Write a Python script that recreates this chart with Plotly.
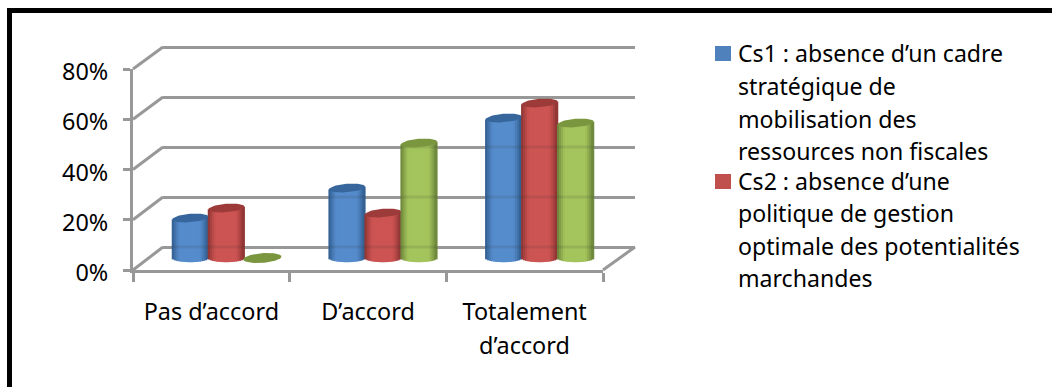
import numpy as np
import plotly.graph_objects as go

W, H = 1052, 387

categories = ["Pas d’accord", "D’accord", "Totalement"]
second_line = "d’accord"
cs1_values = [16, 28, 56]
cs2_values = [20, 18, 62]
cs3_values = [0, 46, 54]
tick_values = [0, 20, 40, 60, 80]
tick_labels = ["0%", "20%", "40%", "60%", "80%"]
legend_cs1 = ["Cs1 : absence d’un cadre", "stratégique de", "mobilisation des", "ressources non fiscales"]
legend_cs2 = ["Cs2 : absence d’une", "politique de gestion", "optimale des potentialités", "marchandes"]

FONT = "Noto Sans"
FONT_SIZE = 23.4
LEGEND_FONT_SIZE = 23.1
GREY = "#989898"
GRID_W = 3

series = [
    (cs1_values, (0x55, 0x8C, 0xCC), (0x2E, 0x58, 0x88), "#36669B"),
    (cs2_values, (0xCC, 0x54, 0x52), (0x84, 0x30, 0x2E), "#9C3B39"),
    (cs3_values, (0xA4, 0xC4, 0x5C), (0x64, 0x7C, 0x36), "#7A963E"),
]


def px_x(p):
    return p / W


def px_y(p):
    return 1 - p / H


# Bar geometry in plot units: one category is 156.7 px, one percent is 2.5 px
CAT_PX = 156.7
PCT_PX = 2.5
bar_w = 36 / CAT_PX
ell_h = 4.2 / PCT_PX
tilt = 1.4 / PCT_PX
n_strips = 18

fig = go.Figure()

# Back wall: gridlines only
fig.add_trace(go.Scatter(x=[0], y=[None], xaxis="x", yaxis="y", mode="none", showlegend=False, hoverinfo="skip"))

# Cylinders: a bar trace of narrow shaded strips per series
for s, (values, light, dark, cap) in enumerate(series):
    xs, ys, bases, cols = [], [], [], []
    for c, v in enumerate(values):
        if v == 0:
            continue
        left = c + (s - 1.5) * bar_w
        for k in range(n_strips):
            u = (k + 0.5) / n_strips * 2 - 1
            shade = min(1, (1 - abs(u)) / 0.42) ** 0.8
            rgb = [int(d + (l - d) * shade) for l, d in zip(light, dark)]
            cols.append("rgb(%d,%d,%d)" % tuple(rgb))
            xs.append(left + (k + 0.5) * bar_w / n_strips)
            sag = ell_h * np.sqrt(1 - u * u)
            bases.append(-sag)
            ys.append(v + tilt * u + sag)
    fig.add_trace(go.Bar(x=xs, y=ys, base=bases, width=1.6 * bar_w / n_strips, xaxis="x2", yaxis="y2",
                         marker=dict(color=cols, line=dict(width=0)), cliponaxis=False,
                         showlegend=False, hoverinfo="skip"))

# Back-wall gridlines showing faintly through the cylinders
wall_offset = 11 / PCT_PX
for s, (values, light, dark, cap) in enumerate(series):
    for c, v in enumerate(values):
        mid = c + (s - 1) * bar_w
        for t in tick_values:
            if t + wall_offset < v:
                fig.add_trace(go.Scatter(x=[mid - bar_w / 2, mid + bar_w / 2], y=[t + wall_offset] * 2,
                                         xaxis="x2", yaxis="y2", mode="lines",
                                         line=dict(color="rgba(50,50,50,0.12)", width=GRID_W),
                                         showlegend=False, hoverinfo="skip"))

# End caps; a zero-height cylinder shows only its disc
theta = np.linspace(0, 2 * np.pi, 60)
for s, (values, light, dark, cap) in enumerate(series):
    for c, v in enumerate(values):
        mid = c + (s - 1) * bar_w
        half = bar_w / 2 * (1.06 if v == 0 else 1.0)
        disc_h = ell_h * (1.15 if v == 0 else 1.0)
        ex = mid + half * np.cos(theta)
        ey = v + disc_h * np.sin(theta) + tilt * np.cos(theta)
        fig.add_trace(go.Scatter(x=ex, y=ey, xaxis="x2", yaxis="y2", mode="lines", fill="toself",
                                 fillcolor=cap, line=dict(width=0, color=cap), cliponaxis=False,
                                 showlegend=False, hoverinfo="skip"))

# Front axes carrying the tick labels
fig.add_trace(go.Scatter(x=categories, y=[None] * 3, xaxis="x3", yaxis="y3", mode="none",
                         showlegend=False, hoverinfo="skip"))

tick_font = dict(family=FONT, size=FONT_SIZE, color="#000000")
legend_font = dict(family=FONT, size=LEGEND_FONT_SIZE, color="#000000")

fig.update_layout(
    width=W, height=H, margin=dict(l=0, r=0, t=0, b=0, autoexpand=False), autosize=False,
    paper_bgcolor="white", plot_bgcolor="rgba(0,0,0,0)", barmode="overlay", showlegend=False,
    xaxis=dict(domain=[px_x(163), px_x(635)], range=[0, 1], visible=False, anchor="y"),
    # The wall's range runs past 0 and 80 so that both end gridlines are drawn
    yaxis=dict(domain=[px_y(257), px_y(37)], range=[-4, 84], anchor="x", tickmode="array",
               tickvals=tick_values, showticklabels=False, ticks="", showgrid=True, gridcolor=GREY,
               gridwidth=GRID_W, zeroline=False, showline=False),
    xaxis2=dict(domain=[px_x(148), px_x(618)], range=[-0.5, 2.5], visible=False, anchor="y2"),
    yaxis2=dict(domain=[px_y(268), px_y(58)], range=[-4, 80], visible=False, anchor="x2"),
    xaxis3=dict(domain=[px_x(133), px_x(603)], type="category", categoryorder="array",
                categoryarray=categories, range=[-0.5, 2.5], tickson="boundaries", anchor="y3",
                showline=True, linecolor=GREY, linewidth=GRID_W, ticks="outside", ticklen=9,
                tickcolor=GREY, tickwidth=GRID_W, showgrid=False, zeroline=False, tickfont=tick_font,
                ticklabelstandoff=19),
    yaxis3=dict(domain=[px_y(270), px_y(69)], range=[0, 80], anchor="x3", tickmode="array",
                tickvals=tick_values, ticktext=tick_labels, showline=True, linecolor=GREY, linewidth=GRID_W,
                ticks="outside", ticklen=7, tickcolor=GREY, tickwidth=GRID_W, showgrid=False,
                zeroline=False, tickfont=tick_font, ticklabelstandoff=10, ticklabelshift=3),
)

# Side-wall and floor diagonals joining the front axes to the back wall
shapes = []
for t in tick_values:
    y_front = 270 - t * 201 / 80
    y_back = 247 - t * 2.5
    shapes.append(dict(type="line", xref="paper", yref="paper", x0=px_x(133), x1=px_x(163),
                       y0=px_y(y_front), y1=px_y(y_back), line=dict(color=GREY, width=GRID_W)))
shapes.append(dict(type="line", xref="paper", yref="paper", x0=px_x(603), x1=px_x(635),
                   y0=px_y(270), y1=px_y(247), line=dict(color=GREY, width=GRID_W)))

# Frame rules along the top and left edges
shapes.append(dict(type="line", xref="paper", yref="paper", x0=px_x(7), x1=1,
                   y0=px_y(10.5), y1=px_y(10.5), line=dict(color="black", width=5)))
shapes.append(dict(type="line", xref="paper", yref="paper", x0=px_x(9.5), x1=px_x(9.5),
                   y0=px_y(8), y1=0, line=dict(color="black", width=5)))

# Legend swatches
shapes.append(dict(type="rect", xref="paper", yref="paper", x0=px_x(715), x1=px_x(731),
                   y0=px_y(61), y1=px_y(46), line=dict(width=0), fillcolor="#4F81BD"))
shapes.append(dict(type="rect", xref="paper", yref="paper", x0=px_x(715), x1=px_x(731),
                   y0=px_y(189), y1=px_y(174), line=dict(width=0), fillcolor="#C0504D"))
fig.update_layout(shapes=shapes)

# Legend text, one annotation per line for its wider leading
legend_y = [53, 86, 119, 151, 181, 213, 246, 278]
annotations = []
for text, y in zip(legend_cs1 + legend_cs2, legend_y):
    annotations.append(dict(text=text, xref="paper", yref="paper", x=px_x(737), y=px_y(y), xanchor="left",
                            yanchor="middle", showarrow=False, font=legend_font, xshift=-1))
annotations.append(dict(text=second_line, xref="x3", yref="paper", x=2, y=px_y(345), xanchor="center",
                        yanchor="middle", showarrow=False, font=tick_font))
fig.update_layout(annotations=annotations)

fig.write_html("out.html")
